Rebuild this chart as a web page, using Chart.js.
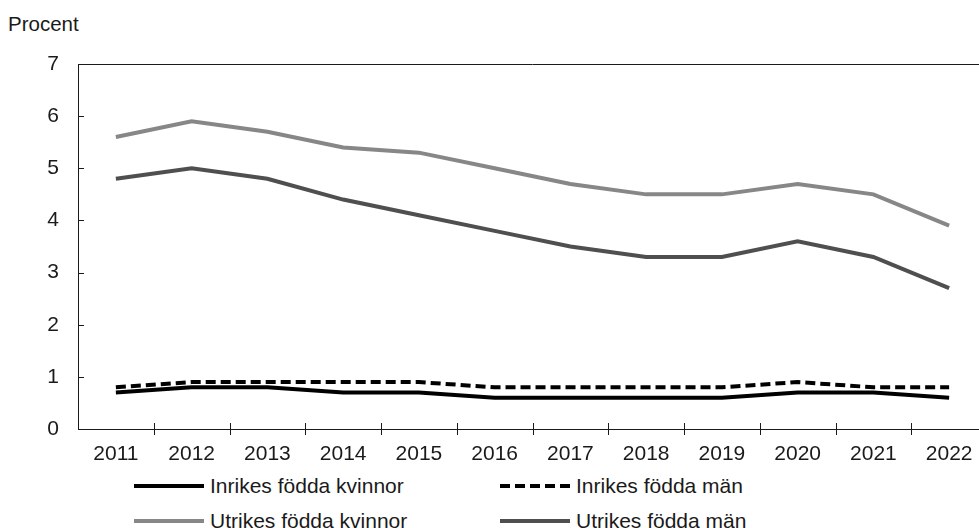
<!DOCTYPE html>
<html lang="sv">
<head>
  <meta charset="UTF-8" />
  <title>Procent</title>
  <script src="https://cdn.jsdelivr.net/npm/chart.js"></script>
  <style>
    html, body { margin: 0; padding: 0; background: #fff; }
    body { width: 979px; height: 528px; overflow: hidden; position: relative; font-family: "Liberation Sans", Arial, sans-serif; color: #1a1a1a; }
    #chart { position: absolute; left: 0; top: 0; }
    .unit { position: absolute; left: 8px; top: 14px; font-size: 20.5px; line-height: 1; }
    .legend-item { position: absolute; display: flex; align-items: center; font-size: 21px; height: 24px; }
    .legend-item svg { margin-right: 6px; }
  </style>
</head>
<body>
  <div class="unit">Procent</div>
  <canvas id="chart" width="1000" height="470"></canvas>
  <div id="legend"></div>

  <script>
const years = ['2011', '2012', '2013', '2014', '2015', '2016', '2017', '2018', '2019', '2020', '2021', '2022'];
const inrikesKvinnor = [0.7, 0.8, 0.8, 0.7, 0.7, 0.6, 0.6, 0.6, 0.6, 0.7, 0.7, 0.6];
const inrikesMan = [0.8, 0.9, 0.9, 0.9, 0.9, 0.8, 0.8, 0.8, 0.8, 0.9, 0.8, 0.8];
const utrikesKvinnor = [5.6, 5.9, 5.7, 5.4, 5.3, 5.0, 4.7, 4.5, 4.5, 4.7, 4.5, 3.9];
const utrikesMan = [4.8, 5.0, 4.8, 4.4, 4.1, 3.8, 3.5, 3.3, 3.3, 3.6, 3.3, 2.7];
const yTicks = [0, 1, 2, 3, 4, 5, 6, 7];

const series = [
  { label: 'Inrikes födda kvinnor', data: inrikesKvinnor, color: '#000000', dash: [], pos: [134, 474] },
  { label: 'Inrikes födda män', data: inrikesMan, color: '#000000', dash: [10, 5], pos: [500, 474] },
  { label: 'Utrikes födda kvinnor', data: utrikesKvinnor, color: '#878787', dash: [], pos: [134, 509] },
  { label: 'Utrikes födda män', data: utrikesMan, color: '#4f4f4f', dash: [], pos: [500, 509] }
];

// frame top line + inward tick marks
const frame = {
  id: 'frame',
  afterDraw(chart) {
    const { ctx, chartArea: a, scales: { x, y } } = chart;
    ctx.save();
    ctx.strokeStyle = '#1a1a1a';
    ctx.lineWidth = 1;
    ctx.beginPath();
    ctx.moveTo(a.left, a.top + 0.5);
    ctx.lineTo(a.right, a.top + 0.5);
    yTicks.forEach(v => {
      const py = Math.round(y.getPixelForValue(v)) + 0.5;
      ctx.moveTo(a.left, py);
      ctx.lineTo(a.left + 6, py);
    });
    const step = x.getPixelForValue(1) - x.getPixelForValue(0);
    for (let i = 1; i < years.length; i++) {
      const px = Math.round(x.getPixelForValue(i) - step / 2) + 0.5;
      ctx.moveTo(px, a.bottom - 6);
      ctx.lineTo(px, a.bottom + 6);
    }
    ctx.stroke();
    ctx.restore();
  }
};

new Chart(document.getElementById('chart'), {
  type: 'line',
  data: {
    labels: years,
    datasets: series.map(s => ({
      label: s.label,
      data: s.data,
      borderColor: s.color,
      borderDash: s.dash,
      borderWidth: 4,
      pointRadius: 0,
      tension: 0,
      fill: false
    }))
  },
  options: {
    responsive: false,
    animation: false,
    devicePixelRatio: 1,
    layout: { padding: { top: 64, right: 13, left: 0, bottom: 0 } },
    plugins: { legend: { display: false }, tooltip: { enabled: false } },
    scales: {
      x: {
        offset: true,
        grid: { display: false, drawTicks: false },
        border: { display: true, color: '#1a1a1a', width: 1 },
        ticks: { color: '#1a1a1a', font: { family: 'Liberation Sans', size: 21 }, padding: 13, maxRotation: 0, autoSkip: false },
        afterFit(scale) { scale.height = 41; }
      },
      y: {
        min: 0,
        max: 7,
        afterBuildTicks(scale) { scale.ticks = yTicks.map(v => ({ value: v })); },
        grid: { display: false, drawTicks: false },
        border: { display: true, color: '#1a1a1a', width: 1 },
        ticks: { color: '#1a1a1a', font: { family: 'Liberation Sans', size: 21 }, padding: 19 },
        afterFit(scale) { scale.width = 78; }
      }
    }
  },
  plugins: [frame]
});

// legend, two columns
const legend = document.getElementById('legend');
series.forEach(s => {
  const item = document.createElement('div');
  item.className = 'legend-item';
  item.style.left = s.pos[0] + 'px';
  item.style.top = s.pos[1] + 'px';
  item.innerHTML = `<svg width="70" height="8"><line x1="0" y1="4" x2="70" y2="4" stroke="${s.color}" stroke-width="4" stroke-dasharray="${s.dash.join(',')}"/></svg><span>${s.label}</span>`;
  legend.appendChild(item);
});
  </script>
</body>
</html>
